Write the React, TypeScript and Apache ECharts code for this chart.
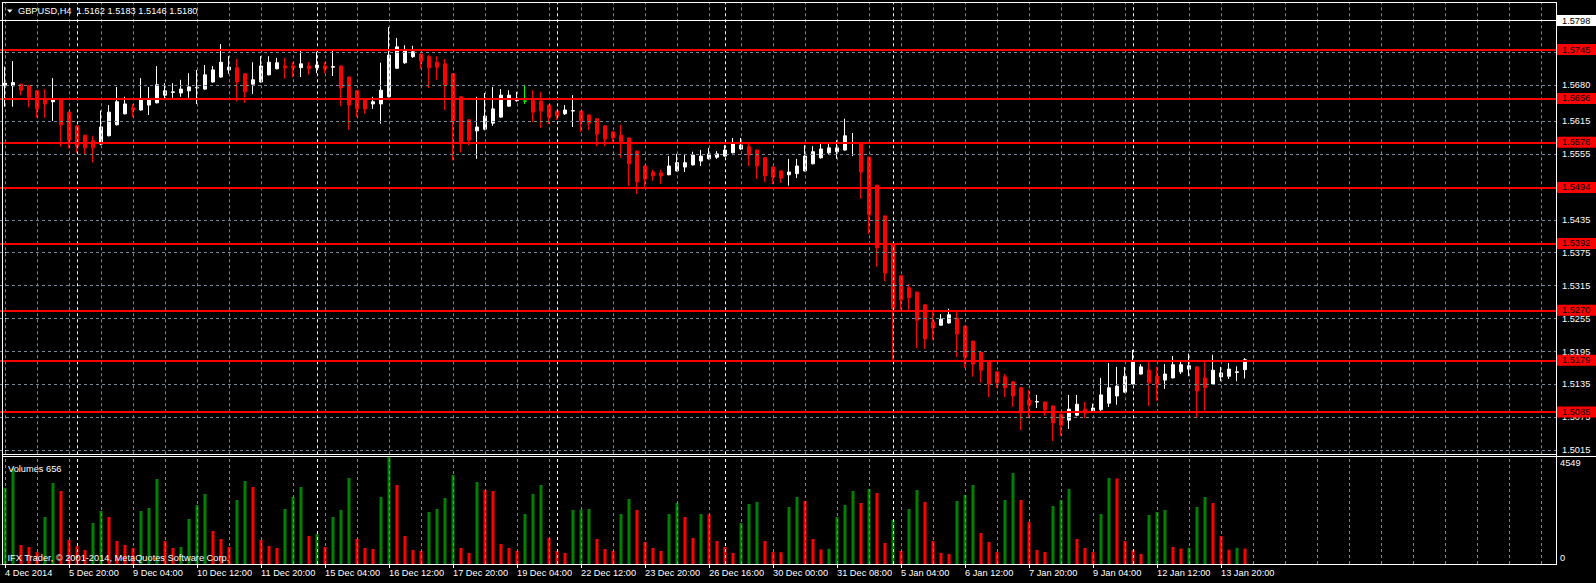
import React, { useEffect, useRef } from 'react';
import * as echarts from 'echarts';

// ---------------- data ----------------
const symbolName = 'GBPUSD';
const periodName = 'H4';
const copyrightText = 'IFX Trader, © 2001-2014, MetaQuotes Software Corp.';

// one label every 8 bars, starting at bar 0
const timeLabels = [
  '4 Dec 2014', '5 Dec 20:00', '9 Dec 04:00', '10 Dec 12:00', '11 Dec 20:00',
  '15 Dec 04:00', '16 Dec 12:00', '17 Dec 20:00', '19 Dec 04:00', '22 Dec 12:00',
  '23 Dec 20:00', '26 Dec 16:00', '30 Dec 00:00', '31 Dec 08:00', '5 Jan 04:00',
  '6 Jan 12:00', '7 Jan 20:00', '9 Jan 04:00', '12 Jan 12:00', '13 Jan 20:00',
];
const barsPerLabel = 8;

const opens = [
  1.5679, 1.5679, 1.5682, 1.5679, 1.5670, 1.5654, 1.5650, 1.5654, 1.5631, 1.5606,
  1.5589, 1.5579, 1.5573, 1.5588, 1.5608, 1.5628, 1.5639, 1.5635, 1.5644, 1.5648,
  1.5662, 1.5667, 1.5666, 1.5670, 1.5675, 1.5673, 1.5686, 1.5695, 1.5708, 1.5712,
  1.5701, 1.5682, 1.5686, 1.5699, 1.5710, 1.5715, 1.5715, 1.5712, 1.5715, 1.5712,
  1.5715, 1.5713, 1.5715, 1.5695, 1.5670, 1.5655, 1.5646, 1.5646, 1.5659, 1.5711,
  1.5721, 1.5732, 1.5737, 1.5732, 1.5722, 1.5719, 1.5701, 1.5659, 1.5617, 1.5597,
  1.5600, 1.5611, 1.5622, 1.5642, 1.5652, 1.5651, 1.5653, 1.5651, 1.5644, 1.5633,
  1.5628, 1.5633, 1.5633, 1.5626, 1.5619, 1.5606, 1.5595, 1.5589, 1.5584, 1.5560,
  1.5533, 1.5522, 1.5520, 1.5517, 1.5524, 1.5531, 1.5535, 1.5542, 1.5546, 1.5549,
  1.5551, 1.5557, 1.5564, 1.5568, 1.5562, 1.5548, 1.5531, 1.5524, 1.5517, 1.5519,
  1.5524, 1.5537, 1.5548, 1.5557, 1.5559, 1.5562, 1.5574, 1.5575, 1.5549, 1.5498,
  1.5442, 1.5391, 1.5333, 1.5311, 1.5303, 1.5280, 1.5249, 1.5243, 1.5247, 1.5256,
  1.5241, 1.5214, 1.5194, 1.5178, 1.5158, 1.5149, 1.5140, 1.5129, 1.5107, 1.5103,
  1.5103, 1.5096, 1.5081, 1.5070, 1.5079, 1.5090, 1.5087, 1.5089, 1.5101, 1.5114,
  1.5121, 1.5136, 1.5154, 1.5161, 1.5150, 1.5143, 1.5147, 1.5158, 1.5163, 1.5167,
  1.5147, 1.5136, 1.5149, 1.5150, 1.5157, 1.5162,
];
const closes = [
  1.5684, 1.5685, 1.5671, 1.5658, 1.5637, 1.5646, 1.5653, 1.5608, 1.5580, 1.5569,
  1.5566, 1.5566, 1.5604, 1.5631, 1.5650, 1.5646, 1.5635, 1.5654, 1.5654, 1.5681,
  1.5670, 1.5668, 1.5673, 1.5677, 1.5676, 1.5699, 1.5708, 1.5722, 1.5713, 1.5686,
  1.5668, 1.5690, 1.5715, 1.5722, 1.5721, 1.5712, 1.5712, 1.5719, 1.5710, 1.5717,
  1.5710, 1.5714, 1.5675, 1.5644, 1.5637, 1.5637, 1.5650, 1.5671, 1.5735, 1.5750,
  1.5743, 1.5741, 1.5724, 1.5712, 1.5713, 1.5681, 1.5615, 1.5575, 1.5580, 1.5604,
  1.5624, 1.5637, 1.5662, 1.5662, 1.5653, 1.5651, 1.5631, 1.5633, 1.5622, 1.5624,
  1.5635, 1.5634, 1.5615, 1.5611, 1.5591, 1.5582, 1.5584, 1.5577, 1.5537, 1.5504,
  1.5509, 1.5515, 1.5515, 1.5533, 1.5539, 1.5539, 1.5553, 1.5551, 1.5555, 1.5555,
  1.5562, 1.5573, 1.5571, 1.5553, 1.5533, 1.5515, 1.5513, 1.5511, 1.5522, 1.5533,
  1.5551, 1.5559, 1.5564, 1.5566, 1.5566, 1.5588, 1.5575, 1.5522, 1.5444, 1.5384,
  1.5338, 1.5273, 1.5289, 1.5293, 1.5252, 1.5218, 1.5238, 1.5254, 1.5262, 1.5227,
  1.5185, 1.5172, 1.5161, 1.5136, 1.5138, 1.5129, 1.5114, 1.5085, 1.5098, 1.5104,
  1.5089, 1.5065, 1.5061, 1.5090, 1.5099, 1.5083, 1.5092, 1.5116, 1.5129, 1.5132,
  1.5150, 1.5176, 1.5167, 1.5138, 1.5136, 1.5154, 1.5171, 1.5171, 1.5169, 1.5123,
  1.5129, 1.5161, 1.5156, 1.5163, 1.5158, 1.5180,
];
const highs = [
  1.5714, 1.5724, 1.5683, 1.5681, 1.5671, 1.5673, 1.5693, 1.5655, 1.5632, 1.5607,
  1.5590, 1.5588, 1.5634, 1.5644, 1.5677, 1.5659, 1.5646, 1.5693, 1.5677, 1.5715,
  1.5684, 1.5684, 1.5690, 1.5702, 1.5708, 1.5717, 1.5715, 1.5755, 1.5733, 1.5728,
  1.5702, 1.5722, 1.5733, 1.5733, 1.5730, 1.5730, 1.5722, 1.5743, 1.5722, 1.5741,
  1.5722, 1.5743, 1.5716, 1.5696, 1.5671, 1.5656, 1.5659, 1.5721, 1.5786, 1.5766,
  1.5753, 1.5752, 1.5738, 1.5735, 1.5733, 1.5728, 1.5702, 1.5660, 1.5618, 1.5659,
  1.5666, 1.5677, 1.5673, 1.5671, 1.5668, 1.5681, 1.5671, 1.5668, 1.5645, 1.5634,
  1.5644, 1.5662, 1.5634, 1.5627, 1.5620, 1.5607, 1.5596, 1.5608, 1.5585, 1.5561,
  1.5534, 1.5526, 1.5526, 1.5551, 1.5555, 1.5555, 1.5559, 1.5562, 1.5566, 1.5560,
  1.5571, 1.5584, 1.5584, 1.5573, 1.5563, 1.5549, 1.5532, 1.5525, 1.5546, 1.5546,
  1.5571, 1.5569, 1.5573, 1.5573, 1.5580, 1.5619, 1.5593, 1.5576, 1.5550, 1.5499,
  1.5443, 1.5392, 1.5334, 1.5318, 1.5305, 1.5281, 1.5269, 1.5263, 1.5273, 1.5267,
  1.5242, 1.5215, 1.5195, 1.5179, 1.5159, 1.5154, 1.5141, 1.5130, 1.5125, 1.5116,
  1.5104, 1.5097, 1.5082, 1.5116, 1.5116, 1.5103, 1.5100, 1.5147, 1.5174, 1.5167,
  1.5167, 1.5198, 1.5172, 1.5176, 1.5167, 1.5172, 1.5187, 1.5176, 1.5191, 1.5168,
  1.5176, 1.5189, 1.5167, 1.5174, 1.5168, 1.5183,
];
const lows = [
  1.5641, 1.5641, 1.5662, 1.5640, 1.5621, 1.5621, 1.5615, 1.5568, 1.5565, 1.5557,
  1.5553, 1.5539, 1.5571, 1.5587, 1.5607, 1.5627, 1.5622, 1.5634, 1.5626, 1.5647,
  1.5655, 1.5657, 1.5659, 1.5657, 1.5646, 1.5672, 1.5685, 1.5694, 1.5701, 1.5651,
  1.5648, 1.5664, 1.5685, 1.5698, 1.5709, 1.5692, 1.5695, 1.5695, 1.5699, 1.5702,
  1.5702, 1.5697, 1.5642, 1.5599, 1.5622, 1.5628, 1.5637, 1.5610, 1.5658, 1.5710,
  1.5719, 1.5730, 1.5710, 1.5675, 1.5690, 1.5635, 1.5543, 1.5558, 1.5571, 1.5546,
  1.5598, 1.5606, 1.5621, 1.5641, 1.5650, 1.5646, 1.5613, 1.5602, 1.5609, 1.5617,
  1.5626, 1.5604, 1.5595, 1.5598, 1.5569, 1.5569, 1.5577, 1.5548, 1.5497, 1.5482,
  1.5491, 1.5506, 1.5500, 1.5516, 1.5523, 1.5522, 1.5534, 1.5533, 1.5545, 1.5546,
  1.5550, 1.5556, 1.5562, 1.5533, 1.5509, 1.5504, 1.5500, 1.5502, 1.5497, 1.5511,
  1.5523, 1.5536, 1.5546, 1.5553, 1.5546, 1.5561, 1.5551, 1.5473, 1.5409, 1.5349,
  1.5323, 1.5180, 1.5271, 1.5271, 1.5201, 1.5200, 1.5216, 1.5242, 1.5246, 1.5185,
  1.5165, 1.5149, 1.5138, 1.5112, 1.5129, 1.5112, 1.5094, 1.5052, 1.5074, 1.5092,
  1.5078, 1.5032, 1.5041, 1.5054, 1.5077, 1.5074, 1.5086, 1.5087, 1.5094, 1.5098,
  1.5120, 1.5135, 1.5153, 1.5096, 1.5105, 1.5127, 1.5146, 1.5154, 1.5150, 1.5074,
  1.5087, 1.5135, 1.5141, 1.5145, 1.5141, 1.5146,
];
const volumes = [
  3245, 4100, 808, 723, 510, 1998, 3443, 3103, 1020, 765,
  595, 1743, 2253, 1998, 978, 808, 680, 2253, 2381, 3613,
  978, 680, 723, 1913, 2508, 2976, 1403, 1063, 723, 2721,
  3528, 3273, 1020, 765, 680, 2338, 2848, 3273, 1190, 1275,
  723, 1998, 2296, 3656, 1063, 680, 638, 2848, 4549, 3358,
  1190, 595, 553, 2211, 2338, 2806, 3783, 680, 468, 3486,
  3146, 3103, 850, 680, 553, 2126, 2976, 3358, 1105, 553,
  468, 2296, 2310, 2338, 1063, 638, 553, 2126, 2763, 2296,
  935, 680, 553, 2126, 2593, 1998, 1105, 2126, 2110, 978,
  723, 468, 1743, 2551, 2636, 978, 510, 500, 2423, 2848,
  2678, 1063, 620, 650, 1998, 2508, 3103, 2593, 3188, 3018,
  893, 1870, 553, 2338, 3146, 2636, 978, 468, 425, 2678,
  2933, 3358, 1318, 935, 510, 2721, 3868, 2721, 1785, 595,
  510, 2466, 2721, 3188, 1063, 680, 510, 2126, 3656, 3640,
  978, 595, 425, 2083, 2211, 2296, 723, 660, 690, 2423,
  2848, 2593, 1190, 610, 690, 656,
];
// first bar of each trading week (period separators)
const weekStarts = [9, 39, 69, 90, 111, 141];
// horizontal line objects
const levelLines = [1.5745, 1.5656, 1.5576, 1.5494, 1.5392, 1.5270, 1.5179, 1.5085];
const whiteLine = 1.5798;
// price scale ticks
const priceTicks = [1.5740, 1.5680, 1.5615, 1.5555, 1.5495, 1.5435, 1.5375, 1.5315, 1.5255, 1.5195, 1.5135, 1.5075, 1.5015];
const volumeTicks = [0, 4549];

// ---------------- layout ----------------
const FONT = "'Liberation Sans', Arial, sans-serif";
const FS = 9.25;
const GRID_W = 1556;
const X_MIN = -0.625;
const X_MAX = GRID_W / 8 + X_MIN;
const PRICE_MIN = 1.50078;
const PRICE_MAX = 1.58317;
const GRAY = '#778899';
const DASH = [3, 3];

function buildOption() {
  const n = opens.length;
  const candleData = opens.map((o, i) => [i, o, closes[i], lows[i], highs[i]]);
  const volData = volumes.map((v, i) => ({
    value: [i, v],
    itemStyle: { color: i === 0 || v > volumes[i - 1] ? '#008000' : '#ff0000' },
  }));
  const labelIdx = timeLabels.map((_, k) => k * barsPerLabel);
  const vGrid: number[] = [];
  for (let v = 0; v <= X_MAX; v += barsPerLabel / 2) vGrid.push(v);

  const vLines = [
    ...vGrid.map((v) => ({ xAxis: v, lineStyle: { color: GRAY, type: DASH, width: 1 } })),
    ...weekStarts.map((v) => ({ xAxis: v, lineStyle: { color: '#ffffff', type: DASH, width: 1 } })),
  ];

  const textStyle = { fill: '#ffffff', fontSize: FS, fontFamily: FONT };
  const last = n - 1;
  const title = `${symbolName},${periodName}  ${opens[last].toFixed(4)} ${highs[last].toFixed(4)} ${lows[last].toFixed(4)} ${closes[last].toFixed(4)}`;

  const line = (x1: number, y1: number, x2: number, y2: number) => ({
    type: 'line', silent: true, z: 100,
    shape: { x1, y1, x2, y2 },
    style: { stroke: '#ffffff', lineWidth: 1 },
  });

  const boxLabel = (bg: string) => ({
    show: true, position: 'end', distance: 1,
    formatter: (p: any) => Number(p.value).toFixed(4),
    backgroundColor: bg, color: '#000000', padding: [1, 6, 0, 5],
    fontSize: FS, fontFamily: FONT, lineHeight: 10,
  });

  return {
    animation: false,
    backgroundColor: '#000000',
    grid: [
      { left: 0, top: 2, width: GRID_W, height: 452.3 },
      { left: 0, top: 457, width: GRID_W, height: 107 },
    ],
    xAxis: [
      {
        type: 'value', gridIndex: 0, min: X_MIN, max: X_MAX,
        axisLine: { show: false }, axisTick: { show: false }, axisLabel: { show: false }, splitLine: { show: false },
      },
      {
        type: 'value', gridIndex: 1, min: X_MIN, max: X_MAX,
        axisLine: { show: false }, splitLine: { show: false },
        axisTick: { show: true, customValues: labelIdx, length: 4, lineStyle: { color: '#ffffff' } },
        axisLabel: {
          show: true, customValues: labelIdx,
          formatter: (v: number) => timeLabels[Math.round(v / barsPerLabel)] ?? '',
          align: 'left', color: '#ffffff', fontSize: FS, fontFamily: FONT, margin: 4,
        },
      },
    ],
    yAxis: [
      {
        type: 'value', gridIndex: 0, position: 'right', min: PRICE_MIN, max: PRICE_MAX,
        axisLine: { show: false }, splitLine: { show: false },
        axisTick: { show: true, customValues: priceTicks, length: 4, lineStyle: { color: '#ffffff' } },
        axisLabel: {
          show: true, customValues: priceTicks, formatter: (v: number) => v.toFixed(4),
          color: '#ffffff', fontSize: FS, fontFamily: FONT, margin: 6,
        },
      },
      {
        type: 'value', gridIndex: 1, position: 'right', min: 0, max: volumeTicks[1],
        axisLine: { show: false }, splitLine: { show: false }, axisTick: { show: false },
        axisLabel: {
          show: true, customValues: volumeTicks,
          formatter: (v: number) => (v === 0 ? `{b|${v}}` : `{t|${v}}`),
          color: '#ffffff', fontSize: FS, fontFamily: FONT, margin: 4,
          rich: {
            t: { color: '#ffffff', fontSize: FS, fontFamily: FONT, padding: [12, 0, 0, 0] },
            b: { color: '#ffffff', fontSize: FS, fontFamily: FONT, padding: [0, 0, 12, 0] },
          },
        },
      },
    ],
    series: [
      {
        type: 'line', xAxisIndex: 0, yAxisIndex: 0, data: [], z: 1, silent: true,
        markLine: {
          silent: true, symbol: ['none', 'none'], animation: false, label: { show: false },
          precision: 6, emphasis: { disabled: true },
          data: [
            ...priceTicks.map((v) => ({ yAxis: v, lineStyle: { color: GRAY, type: DASH, width: 1 } })),
            ...vLines,
          ],
        },
      },
      {
        type: 'line', xAxisIndex: 1, yAxisIndex: 1, data: [], z: 1, silent: true,
        markLine: {
          silent: true, symbol: ['none', 'none'], animation: false, label: { show: false },
          precision: 6, emphasis: { disabled: true },
          data: [
            { yAxis: 0, lineStyle: { color: GRAY, type: DASH, width: 1 } },
            ...vLines,
          ],
        },
      },
      {
        type: 'candlestick', xAxisIndex: 0, yAxisIndex: 0, data: candleData, z: 2,
        barWidth: 4, silent: true,
        itemStyle: {
          color: '#ffffff', color0: '#ff0000', borderColor: '#ffffff', borderColor0: '#ff0000',
          borderColorDoji: '#00ff00', borderWidth: 1,
        },
      },
      {
        type: 'bar', xAxisIndex: 1, yAxisIndex: 1, data: volData, barWidth: 3, z: 2, silent: true,
      },
      {
        type: 'line', xAxisIndex: 0, yAxisIndex: 0, data: [], z: 5, silent: true,
        markLine: {
          silent: true, symbol: ['none', 'none'], animation: false, precision: 6,
          emphasis: { disabled: true },
          data: [
            ...levelLines.map((v) => ({
              yAxis: v,
              lineStyle: { color: '#ff0000', type: 'solid', width: 2 },
              label: boxLabel('#ff0000'),
            })),
            {
              yAxis: whiteLine,
              lineStyle: { color: '#ffffff', type: 'solid', width: 1 },
              label: boxLabel('#ffffff'),
            },
          ],
        },
      },
    ],
    graphic: [
      line(2, 2.5, 1556.5, 2.5),
      line(2.5, 2, 2.5, 565),
      line(1556.5, 2, 1556.5, 565),
      line(2, 454.5, 1556.5, 454.5),
      line(2, 456.5, 1596, 456.5),
      line(2, 564.5, 1556.5, 564.5),
      {
        type: 'polygon', silent: true, z: 100,
        shape: { points: [[7, 9.5], [12.5, 9.5], [9.75, 12.8]] },
        style: { fill: '#ffffff' },
      },
      {
        type: 'text', silent: true, z: 100, x: 18, y: 11,
        style: { ...textStyle, text: title, verticalAlign: 'middle' },
      },
      {
        type: 'text', silent: true, z: 100, x: 8, y: 469,
        style: { ...textStyle, text: `Volumes ${volumes[last]}`, verticalAlign: 'middle' },
      },
      {
        type: 'text', silent: true, z: 100, x: 7.5, y: 558,
        style: { ...textStyle, text: copyrightText, verticalAlign: 'middle' },
      },
    ],
  };
}

export default function App() {
  const ref = useRef<HTMLDivElement>(null);
  useEffect(() => {
    document.body.style.margin = '0';
    document.body.style.background = '#000000';
    const chart = echarts.init(ref.current as HTMLDivElement, null, { renderer: 'svg' });
    chart.setOption(buildOption() as any);
    return () => {
      chart.dispose();
    };
  }, []);
  return <div ref={ref} style={{ width: 1596, height: 583, background: '#000000' }} />;
}
